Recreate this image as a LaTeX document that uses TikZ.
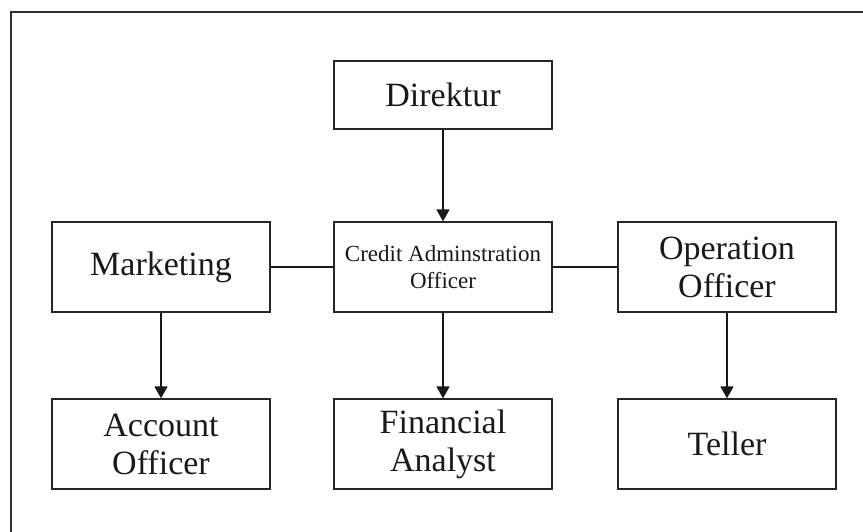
\documentclass[tikz,border=0pt]{standalone}
\usepackage{fontspec}
\setmainfont{Liberation Serif}
\usetikzlibrary{arrows.meta}
\begin{document}
\begin{tikzpicture}[x=1pt,y=-1pt,
  unit/.style={draw=black!85, line width=1.3pt, minimum width=218pt, minimum height=90pt,
    inner sep=0pt, align=center, font=\fontsize{34}{38}\selectfont, text=black!90},
  link/.style={line width=1.6pt, draw=black!90, -{Triangle[width=13pt,length=12pt]}},
  tie/.style={line width=1.1pt, draw=black!90}]
  \useasboundingbox (0,0) rectangle (863,531);
  % outer frame, running off the page at the right and bottom
  \begin{scope}
    \clip (0,0) rectangle (863,531);
    \draw[line width=2.6pt, draw=black!82] (11,12) rectangle (900,600);
  \end{scope}

  \node[unit, minimum height=68pt] (dir) at (443,95) {Direktur};
  \node[unit] (mkt) at (161,267) {Marketing};
  \node[unit, font=\fontsize{23}{27}\selectfont] (cao) at (443,267) {Credit Adminstration\\Officer};
  \node[unit] (ops) at (727,267) {Operation\\Officer};
  \node[unit] (acc) at (161,444) {Account\\Officer};
  \node[unit] (fin) at (443,444) {Financial\\Analyst};
  \node[unit] (tel) at (727,444) {Teller};

  \draw[link] (dir) -- (cao);
  \draw[tie] (mkt) -- (cao);
  \draw[tie] (cao) -- (ops);
  \draw[link] (mkt) -- (acc);
  \draw[link] (cao) -- (fin);
  \draw[link] (ops) -- (tel);
\end{tikzpicture}
\end{document}
